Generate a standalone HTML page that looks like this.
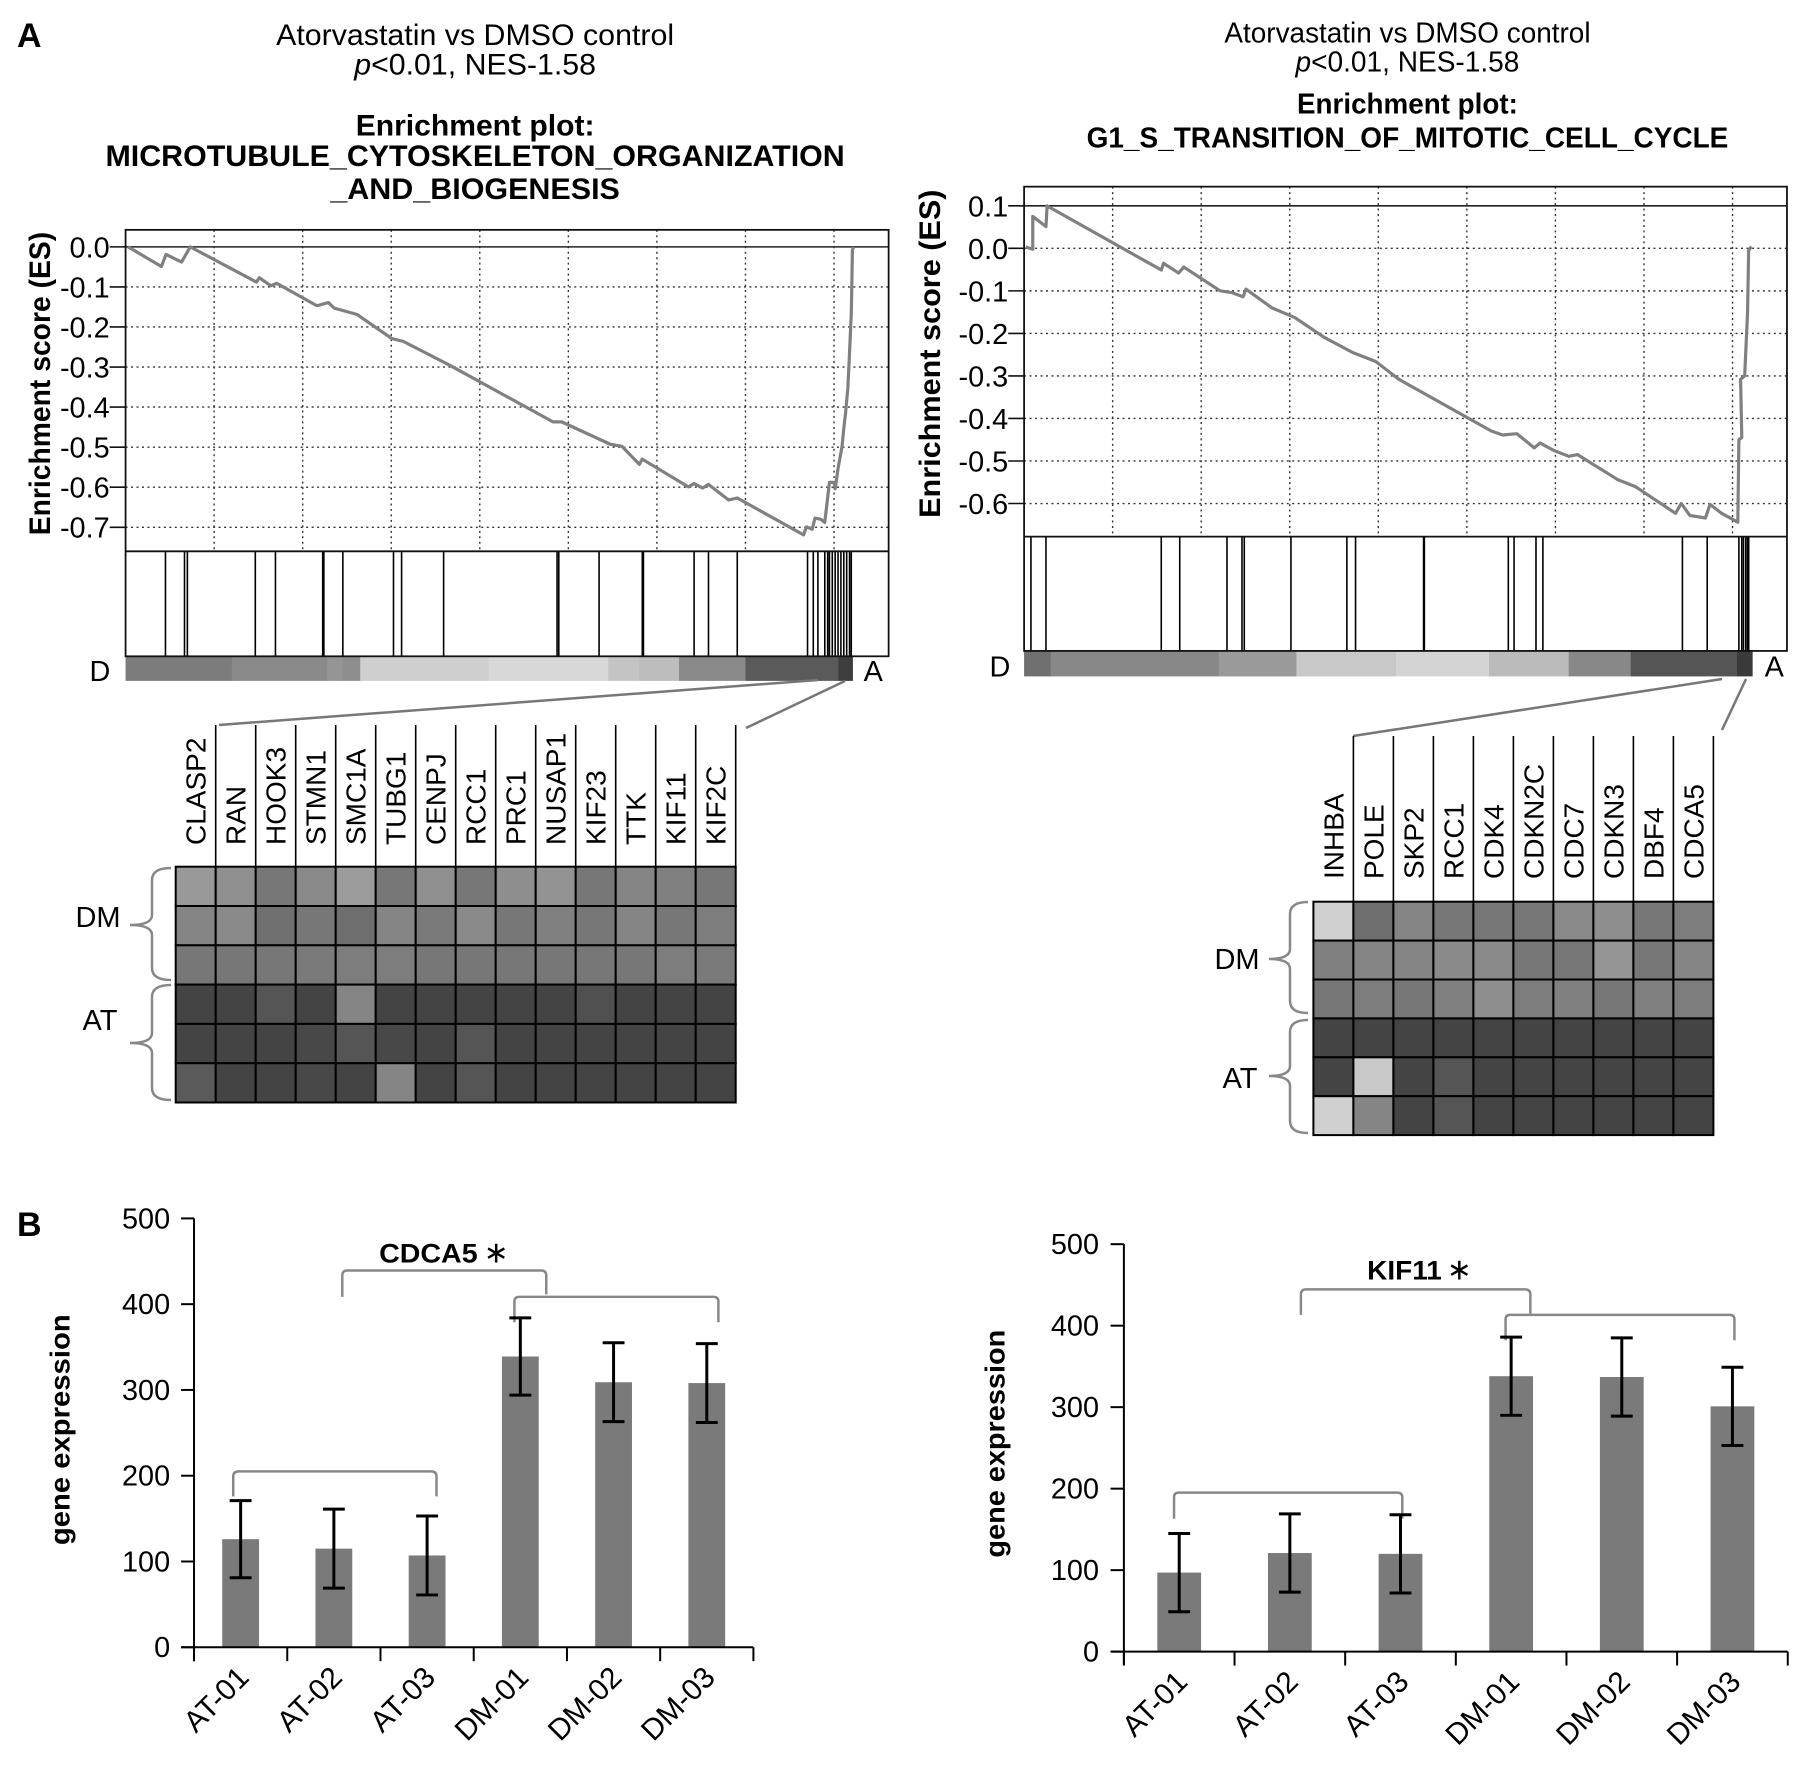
<!DOCTYPE html>
<html><head><meta charset="utf-8">
<style>
html,body{margin:0;padding:0;background:#fff;}
svg{display:block;font-family:"Liberation Sans",Arial,sans-serif;}
</style></head>
<body>
<svg id="fig" width="1807" height="1767" viewBox="0 0 1807 1767" xmlns="http://www.w3.org/2000/svg">
<rect x="0" y="0" width="1807" height="1767" fill="#fff"/>
<text x="17" y="47" font-size="34" font-weight="bold">A</text>
<text x="17" y="1236" font-size="34" font-weight="bold">B</text>

<g id="esL" transform="scale(0.995)">
  <text x="477.5" y="45" font-size="30" text-anchor="middle" textLength="400" lengthAdjust="spacingAndGlyphs">Atorvastatin vs DMSO control</text>
  <text x="477.5" y="75" font-size="30" text-anchor="middle" textLength="243" lengthAdjust="spacingAndGlyphs"><tspan font-style="italic">p</tspan>&lt;0.01, NES-1.58</text>
  <text x="477.5" y="136" font-size="30" font-weight="bold" text-anchor="middle" textLength="240" lengthAdjust="spacingAndGlyphs">Enrichment plot:</text>
  <text x="477.5" y="167" font-size="30" font-weight="bold" text-anchor="middle" textLength="743" lengthAdjust="spacingAndGlyphs">MICROTUBULE_CYTOSKELETON_ORGANIZATION</text>
  <text x="477.5" y="200" font-size="30" font-weight="bold" text-anchor="middle" textLength="291" lengthAdjust="spacingAndGlyphs">_AND_BIOGENESIS</text>
  <text transform="translate(50,385.5) rotate(-90)" font-size="30" font-weight="bold" text-anchor="middle" textLength="305" lengthAdjust="spacingAndGlyphs">Enrichment score (ES)</text>
</g>
<g id="esR" transform="translate(903,0) scale(0.995) translate(-903,0)">
  <text x="1410" y="42.6" font-size="29" text-anchor="middle" textLength="368" lengthAdjust="spacingAndGlyphs">Atorvastatin vs DMSO control</text>
  <text x="1410" y="72" font-size="29" text-anchor="middle" textLength="225" lengthAdjust="spacingAndGlyphs"><tspan font-style="italic">p</tspan>&lt;0.01, NES-1.58</text>
  <text x="1410" y="114" font-size="29" font-weight="bold" text-anchor="middle" textLength="222" lengthAdjust="spacingAndGlyphs">Enrichment plot:</text>
  <text x="1410" y="148" font-size="29" font-weight="bold" text-anchor="middle" textLength="645" lengthAdjust="spacingAndGlyphs">G1_S_TRANSITION_OF_MITOTIC_CELL_CYCLE</text>
  <text transform="translate(940,355.5) rotate(-90)" font-size="30" font-weight="bold" text-anchor="middle" textLength="330" lengthAdjust="spacingAndGlyphs">Enrichment score (ES)</text>
</g>
<g id="hmL">
  <text x="98" y="927" font-size="29" text-anchor="middle">DM</text>
  <text x="100" y="1030" font-size="29" text-anchor="middle">AT</text>
  <path d="M171,868 Q152,868 152,880 L152,915 Q152,925 130,925 Q152,925 152,935 L152,968 Q152,980 171,980" fill="none" stroke="#888" stroke-width="2.5"/>
  <path d="M171,985 Q152,985 152,997 L152,1033 Q152,1043 130,1043 Q152,1043 152,1053 L152,1088 Q152,1100 171,1100" fill="none" stroke="#888" stroke-width="2.5"/>
  <line x1="818" y1="680" x2="219" y2="725" stroke="#777" stroke-width="2.5"/>
  <line x1="845" y1="681" x2="746" y2="728" stroke="#777" stroke-width="2.5"/>
</g>
<g id="hmR">
  <text x="1237" y="969" font-size="29" text-anchor="middle">DM</text>
  <text x="1240" y="1088" font-size="29" text-anchor="middle">AT</text>
  <path d="M1308,902 Q1290,902 1290,914 L1290,949 Q1290,959 1269,959 Q1290,959 1290,969 L1290,1001 Q1290,1013 1308,1013" fill="none" stroke="#888" stroke-width="2.5"/>
  <path d="M1308,1020 Q1290,1020 1290,1032 L1290,1066 Q1290,1076 1269,1076 Q1290,1076 1290,1086 L1290,1121 Q1290,1133 1308,1133" fill="none" stroke="#888" stroke-width="2.5"/>
  <line x1="1722" y1="679" x2="1353" y2="736" stroke="#777" stroke-width="2.5"/>
  <line x1="1746" y1="679" x2="1722" y2="730" stroke="#777" stroke-width="2.5"/>
</g>
<g id="barL" transform="translate(0,1180) scale(0.995) translate(0,-1180)">
  <text transform="translate(70,1431) rotate(-90)" font-size="28" font-weight="bold" text-anchor="middle" textLength="232" lengthAdjust="spacingAndGlyphs">gene expression</text>
  <text x="381" y="1263" font-size="27" font-weight="bold"><tspan textLength="99" lengthAdjust="spacingAndGlyphs">CDCA5</tspan><tspan font-weight="normal" font-size="30" dx="6">∗</tspan></text>
  <path d="M234.4,1498 L234.4,1478 Q234.4,1472.8 240,1472.8 L433,1472.8 Q438.7,1472.8 438.7,1478 L438.7,1498" fill="none" stroke="#888" stroke-width="2.5"/>
  <path d="M517,1323 L517,1302 Q517,1297.4 522,1297.4 L717,1297.4 Q722,1297.4 722,1302 L722,1323" fill="none" stroke="#888" stroke-width="2.5"/>
  <path d="M344,1297.4 L344,1276 Q344,1271 349,1271 L544,1271 Q549,1271 549,1276 L549,1295" fill="none" stroke="#888" stroke-width="2.5"/>
</g>
<g id="barR" transform="translate(903,1180) scale(0.995) translate(-903,-1180)">
  <text transform="translate(1005,1445) rotate(-90)" font-size="28" font-weight="bold" text-anchor="middle" textLength="229" lengthAdjust="spacingAndGlyphs">gene expression</text>
  <text x="1369.5" y="1280" font-size="27" font-weight="bold"><tspan textLength="75" lengthAdjust="spacingAndGlyphs">KIF11</tspan><tspan font-weight="normal" font-size="30" dx="5">∗</tspan></text>
  <path d="M1175.4,1520.5 L1175.4,1499 Q1175.4,1494.2 1180,1494.2 L1400,1494.2 Q1404.8,1494.2 1404.8,1499 L1404.8,1520.5" fill="none" stroke="#888" stroke-width="2.5"/>
  <path d="M1508.6,1341 L1508.6,1320 Q1508.6,1315.5 1513,1315.5 L1734,1315.5 Q1738.6,1315.5 1738.6,1320 L1738.6,1341" fill="none" stroke="#888" stroke-width="2.5"/>
  <path d="M1302.9,1315.5 L1302.9,1295 Q1302.9,1289.9 1308,1289.9 L1528,1289.9 Q1533.5,1289.9 1533.5,1295 L1533.5,1314.3" fill="none" stroke="#888" stroke-width="2.5"/>
</g>
</svg>
<script>
// ---------- ES plot data (rank position, enrichment score) ----------
const esRanksLeft = [57,810,914,1265,1460,2956,3021,3281,3411,4322,4582,4712,5231,6013,6273,7312,9654,9849,10953,11212,11605,11669,12709,12839,13034,13164,13620,13815,15312,15377,15507,15571,15701,15792,15896,16000,16026,16091,16182,16221,16260,16312,16351,16390,16416,16440];
const esValuesLeft = [0,-0.049,-0.019,-0.038,0,-0.088,-0.077,-0.097,-0.091,-0.147,-0.139,-0.153,-0.169,-0.229,-0.236,-0.295,-0.437,-0.437,-0.493,-0.498,-0.543,-0.530,-0.599,-0.591,-0.602,-0.593,-0.632,-0.627,-0.719,-0.699,-0.705,-0.677,-0.680,-0.688,-0.588,-0.588,-0.604,-0.554,-0.498,-0.454,-0.415,-0.353,-0.264,-0.164,-0.008,0];
const hitsLeft = [901,1331,1396,2930,3385,4452,4478,4907,6051,6234,7183,9745,9784,10694,11670,11696,12840,13165,13815,15402,15532,15636,15792,15857,15896,15961,16026,16091,16156,16221,16286,16351,16390];
const esTicksLeft = [0,-0.1,-0.2,-0.3,-0.4,-0.5,-0.6,-0.7];

const esRanksRight = [38,195,195,494,520,3098,3150,3489,3606,4426,4686,4947,5012,5598,6119,6770,7421,7941,8462,10545,10806,11131,11522,11652,11978,12303,12498,13410,13800,14712,14842,15037,15389,15493,15753,16118,16144,16209,16183,16274,16339,16365,16430];
const esValuesRight = [0.003,-0.002,0.075,0.051,0.1,-0.051,-0.035,-0.058,-0.044,-0.100,-0.104,-0.114,-0.096,-0.140,-0.163,-0.209,-0.245,-0.266,-0.308,-0.429,-0.439,-0.436,-0.469,-0.458,-0.476,-0.489,-0.485,-0.544,-0.560,-0.623,-0.600,-0.628,-0.634,-0.602,-0.623,-0.644,-0.450,-0.445,-0.308,-0.300,-0.151,-0.004,0.004];
const hitsRight = [155,494,3098,3515,4582,4921,4973,6027,7290,7486,9022,9040,10936,11066,11561,11717,14868,15428,16144,16209,16248,16300,16339,16365];
const esTicksRight = [0.1,0,-0.1,-0.2,-0.3,-0.4,-0.5,-0.6];
const gridRanks = [2000,4000,6000,8000,10000,12000,14000,16000];

// ---------- heatmap data (gray level 0-255) ----------
const genesLeft = ['CLASP2','RAN','HOOK3','STMN1','SMC1A','TUBG1','CENPJ','RCC1','PRC1','NUSAP1','KIF23','TTK','KIF11','KIF2C'];
const heatLeftDM1 = [153,144,119,138,156,119,144,119,142,147,119,133,128,119];
const heatLeftDM2 = [133,138,112,119,110,133,122,138,119,128,119,133,119,125];
const heatLeftDM3 = [119,119,119,122,125,125,119,119,119,119,119,119,125,122];
const heatLeftAT1 = [68,68,85,68,133,68,68,68,68,68,80,68,68,68];
const heatLeftAT2 = [68,68,68,72,85,72,68,85,68,68,68,68,68,68];
const heatLeftAT3 = [90,68,68,72,68,133,68,85,68,68,68,68,68,68];
const genesRight = ['INHBA','POLE','SKP2','RCC1','CDK4','CDKN2C','CDC7','CDKN3','DBF4','CDCA5'];
const heatRightDM1 = [208,110,133,119,119,119,138,142,119,125];
const heatRightDM2 = [128,133,133,138,138,119,119,149,119,133];
const heatRightDM3 = [119,125,119,128,142,125,128,119,128,125];
const heatRightAT1 = [68,68,68,68,68,68,68,68,68,68];
const heatRightAT2 = [68,200,68,85,68,68,68,68,68,68];
const heatRightAT3 = [208,133,68,85,68,68,68,68,68,68];

// ---------- bar chart data ----------
const sampleCats = ['AT-01','AT-02','AT-03','DM-01','DM-02','DM-03'];
const cdca5Values = [126,115,107,339,309,308];
const cdca5Errors = [45,46,46,45,46,46];
const kif11Values = [97,121,120,338,337,301];
const kif11Errors = [48,48,48,48,48,48];
const barTicks = [0,100,200,300,400,500];

const NS = 'http://www.w3.org/2000/svg';
function mk(parent, tag, attrs) {
  const el = document.createElementNS(NS, tag);
  for (const k in attrs) el.setAttribute(k, attrs[k]);
  parent.appendChild(el);
  return el;
}

function drawES(g, c) {
  const xs = r => c.x0 + r * c.xk;
  const ys = v => c.y0 - v * c.pp;
  // gradient color bar
  let el;
  for (const s of c.cb) {
    el = mk(g, 'rect', {x: xs(s[0]), y: c.hitBot, width: xs(s[1]) - xs(s[0]) + 0.5, height: c.cbBot - c.hitBot, fill: s[2]});
    
    
  }
  // grid
  for (const r of c.grid) {
    el = mk(g, 'line', {x1: xs(r), x2: xs(r), y1: c.top, y2: c.esBot, stroke: '#333', 'stroke-width': 1.4, 'stroke-dasharray': '2,3.5'});
    
    
  }
  for (const t of c.ticks) {
    const solid = Math.abs(t - c.solid) < 1e-9;
    el = mk(g, 'line', {x1: c.x0, x2: c.xr, y1: ys(t), y2: ys(t), stroke: solid ? '#222' : '#333', 'stroke-width': solid ? 1.6 : 1.4, 'stroke-dasharray': solid ? 'none' : '2,3.5'});
    
    
    el = mk(g, 'line', {x1: c.x0 - 16, x2: c.x0, y1: ys(t), y2: ys(t), stroke: '#111', 'stroke-width': 1.6});
    
    
    el = mk(g, 'text', {x: c.x0 - 16, y: ys(t) + 10.5, 'font-size': 29, 'text-anchor': 'end'});
    el.textContent = t.toFixed(1);
    
    
  }
  // hits
  for (const r of c.hits) {
    el = mk(g, 'line', {x1: xs(r), x2: xs(r), y1: c.esBot, y2: c.hitBot, stroke: '#000', 'stroke-width': 1.6});
    
    
  }
  // frames
  el = mk(g, 'rect', {x: c.x0, y: c.top, width: c.xr - c.x0, height: c.hitBot - c.top, fill: 'none', stroke: '#111', 'stroke-width': 1.8});
  
  
  el = mk(g, 'line', {x1: c.x0, x2: c.xr, y1: c.esBot, y2: c.esBot, stroke: '#111', 'stroke-width': 1.8});
  
  
  // curve
  let d = 'M' + c.ranks.map((r, i) => xs(r).toFixed(1) + ',' + ys(c.vals[i]).toFixed(1)).join(' L');
  el = mk(g, 'path', {d: d, fill: 'none', stroke: '#808080', 'stroke-width': 3.2, 'stroke-linejoin': 'round'});
  
  
  el = mk(g, 'text', {x: c.dx, y: c.cbBot, 'font-size': 29});
  el.textContent = 'D';
  
  
  el = mk(g, 'text', {x: c.ax, y: c.cbBot, 'font-size': 29});
  el.textContent = 'A';
  
  
}

drawES(document.getElementById('esL'), {
  x0: 126.2, xr: 893.1, top: 231, esBot: 554.1, hitBot: 659.6, cbBot: 684.3, y0: 248.1, pp: 402.6, xk: 0.0445,
  ticks: esTicksLeft, solid: 0, grid: gridRanks, hits: hitsLeft, ranks: esRanksLeft, vals: esValuesLeft, dx: 90, ax: 868,
  cb: [[0,2400,'#7c7c7c'],[2400,4550,'#8a8a8a'],[4550,4900,'#959595'],[4900,5300,'#8e8e8e'],[5300,8200,'#cfcfcf'],[8200,10900,'#d8d8d8'],[10900,11600,'#c4c4c4'],[11600,12500,'#bdbdbd'],[12500,14000,'#8a8a8a'],[14000,16100,'#5a5a5a'],[16100,16416,'#3e3e3e']]
});
drawES(document.getElementById('esR'), {
  x0: 1024.7, xr: 1791.4, top: 187.6, esBot: 539.3, hitBot: 654.2, cbBot: 679.8, y0: 249.6, pp: 427.4, xk: 0.0445,
  ticks: esTicksRight, solid: 0.1, grid: gridRanks, hits: hitsRight, ranks: esRanksRight, vals: esValuesRight, dx: 990, ax: 1769,
  cb: [[0,600,'#707070'],[600,4400,'#888888'],[4400,6150,'#9a9a9a'],[6150,8400,'#c8c8c8'],[8400,10500,'#d4d4d4'],[10500,12300,'#bbbbbb'],[12300,13700,'#888888'],[13700,16100,'#555555'],[16100,16443,'#3a3a3a']]
});

function drawHeat(g, c) {
  const rows = c.rows;
  const colX = i => c.x0 + i * c.cw;
  const rowY = j => c.y0 + j * c.rh;
  let el;
  rows.forEach((row, j) => {
    row.forEach((v, i) => {
      el = mk(g, 'rect', {x: colX(i), y: rowY(j), width: c.cw, height: c.rh, fill: 'rgb(' + v + ',' + v + ',' + v + ')', stroke: '#000', 'stroke-width': 2});
      
      
    });
  });
  c.genes.forEach((gname, i) => {
    el = mk(g, 'line', {x1: colX(i + 1), x2: colX(i + 1), y1: c.lineTop, y2: c.y0, stroke: '#000', 'stroke-width': 1.6});
    
    
    el = mk(g, 'text', {transform: 'translate(' + (colX(i) + c.cw / 2 + 10) + ',' + c.labelY + ') rotate(-90)', 'font-size': 28});
    el.textContent = gname;
    
    
  });
}
drawHeat(document.getElementById('hmL'), {x0: 175.7, cw: 40, y0: 866.7, rh: 39.3, lineTop: 725, labelY: 845, genes: genesLeft,
  rows: [heatLeftDM1, heatLeftDM2, heatLeftDM3, heatLeftAT1, heatLeftAT2, heatLeftAT3]});
drawHeat(document.getElementById('hmR'), {x0: 1313.4, cw: 40, y0: 901.7, rh: 38.9, lineTop: 736, labelY: 879, genes: genesRight,
  rows: [heatRightDM1, heatRightDM2, heatRightDM3, heatRightAT1, heatRightAT2, heatRightAT3]});

function drawBars(g, c, vals, errs, key) {
  const xc = i => c.ax + (i + 0.5) * c.cw;
  const ys = v => c.y0 - v * c.pp / 100;
  let el;
  vals.forEach((v, i) => {
    el = mk(g, 'rect', {x: xc(i) - c.bw / 2, y: ys(v), width: c.bw, height: ys(0) - ys(v), fill: '#7a7a7a'});
    
    
    const hi = ys(v + errs[i]), lo = ys(v - errs[i]);
    el = mk(g, 'path', {d: 'M' + xc(i) + ',' + hi + ' L' + xc(i) + ',' + lo + ' M' + (xc(i) - 11) + ',' + hi + ' L' + (xc(i) + 11) + ',' + hi + ' M' + (xc(i) - 11) + ',' + lo + ' L' + (xc(i) + 11) + ',' + lo, stroke: '#000', 'stroke-width': 3, fill: 'none'});
    
    
    el = mk(g, 'text', {transform: 'translate(' + (xc(i) + 10) + ',' + (c.y0 + 32) + ') rotate(-45)', 'font-size': 30, 'text-anchor': 'end'});
    el.textContent = sampleCats[i];
    
    
  });
  for (let i = 0; i <= vals.length; i++) {
    el = mk(g, 'line', {x1: c.ax + i * c.cw, x2: c.ax + i * c.cw, y1: c.y0, y2: c.y0 + 14, stroke: '#000', 'stroke-width': 2});
    
    
  }
  barTicks.forEach(t => {
    el = mk(g, 'line', {x1: c.tl, x2: c.ax, y1: ys(t), y2: ys(t), stroke: '#000', 'stroke-width': 2});
    
    
    el = mk(g, 'text', {x: c.lr, y: ys(t) + 10, 'font-size': 29, 'text-anchor': 'end'});
    el.textContent = t;
    
    
  });
  el = mk(g, 'line', {x1: c.ax, x2: c.ax, y1: ys(500), y2: c.y0 + 14, stroke: '#000', 'stroke-width': 2});
  
  
  el = mk(g, 'line', {x1: c.tl, x2: c.ax + vals.length * c.cw, y1: c.y0, y2: c.y0, stroke: '#000', 'stroke-width': 2});
  
  
}
drawBars(document.getElementById('barL'), {ax: 195, y0: 1649.6, pp: 86.2, cw: 93.7, bw: 37, tl: 182, lr: 171}, cdca5Values, cdca5Errors, 'cdca5');
drawBars(document.getElementById('barR'), {ax: 1125, y0: 1654, pp: 81.9, cw: 111.2, bw: 44, tl: 1111.6, lr: 1100}, kif11Values, kif11Errors, 'kif11');
</script>
</body></html>
